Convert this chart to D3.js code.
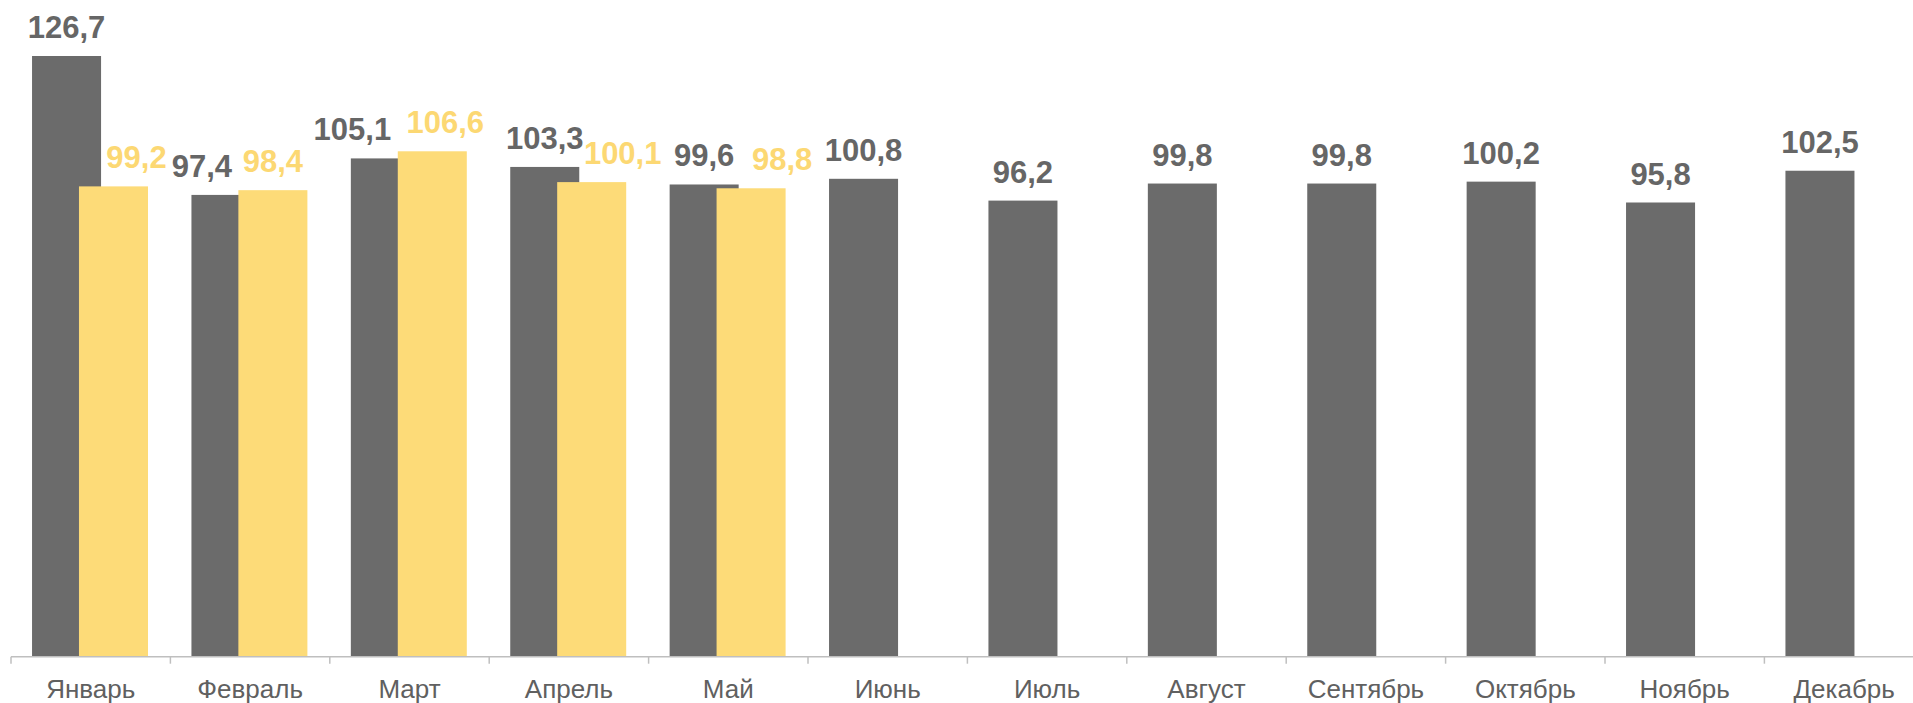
<!DOCTYPE html>
<head>
<meta charset="utf-8">
<style>
body { margin: 0; background: #fff; }
.bar.prev { fill: #6b6b6b; }
.bar.cur { fill: #fddb78; }
.val { font-family: "Liberation Sans", Arial, sans-serif; font-weight: bold; font-size: 31px; text-anchor: middle; }
.val.prev { fill: #666; }
.val.cur { fill: #fcd873; }
.axis path, .axis line { stroke: #bfbfbf; }
.axis text { font-family: "Liberation Sans", Arial, sans-serif; font-size: 26px; fill: #606060; }
</style>
<title>Индексы по месяцам</title>
</head>
<body>
<script src="https://cdn.jsdelivr.net/npm/d3@7/dist/d3.min.js"></script>
<script>

var width = 1913,
    height = 703;

var months = ["Январь", "Февраль", "Март", "Апрель", "Май", "Июнь",
              "Июль", "Август", "Сентябрь", "Октябрь", "Ноябрь", "Декабрь"];
var prevYear = [126.7, 97.4, 105.1, 103.3, 99.6, 100.8, 96.2, 99.8, 99.8, 100.2, 95.8, 102.5];
var curYear = [99.2, 98.4, 106.6, 100.1, 98.8];

// hand nudges of the labels so they don't collide (as in the original)
var prevNudge = [0, -24, -33, 0, 0, 0, 0, 0, 0, 0, 0, 0];
var curNudge = [23, 0, 13, 31, 31];

var fmt = function(v) { return d3.format(".1f")(v).replace(".", ","); };

var svg = d3.select("body").append("svg")
    .attr("width", width)
    .attr("height", height);

var x = d3.scaleBand()
    .domain(months)
    .range([11, 11 + 12 * 159.4]);

var y = d3.scaleLinear()
    .domain([0, 126.7])
    .range([656.7, 56]);

var step = x.step(),
    barW = step * 0.433,
    offPrev = step * 0.132,
    offCur = offPrev + barW * 0.68;

var prev = months.map(function(m, i) { return { m: m, v: prevYear[i], dx: prevNudge[i] }; });
var cur = curYear.map(function(v, i) { return { m: months[i], v: v, dx: curNudge[i] }; });

svg.selectAll(".bar.prev")
    .data(prev)
  .enter().append("rect")
    .attr("class", "bar prev")
    .attr("x", function(d) { return x(d.m) + offPrev; })
    .attr("y", function(d) { return y(d.v); })
    .attr("width", barW)
    .attr("height", function(d) { return y(0) - y(d.v); });

svg.selectAll(".bar.cur")
    .data(cur)
  .enter().append("rect")
    .attr("class", "bar cur")
    .attr("x", function(d) { return x(d.m) + offCur; })
    .attr("y", function(d) { return y(d.v); })
    .attr("width", barW)
    .attr("height", function(d) { return y(0) - y(d.v); });

svg.selectAll(".val.prev")
    .data(prev)
  .enter().append("text")
    .attr("class", "val prev")
    .attr("x", function(d) { return x(d.m) + offPrev + barW / 2 + d.dx; })
    .attr("y", function(d) { return y(d.v) - 18; })
    .text(function(d) { return fmt(d.v); });

svg.selectAll(".val.cur")
    .data(cur)
  .enter().append("text")
    .attr("class", "val cur")
    .attr("x", function(d) { return x(d.m) + offCur + barW / 2 + d.dx; })
    .attr("y", function(d) { return y(d.v) - 18; })
    .text(function(d) { return fmt(d.v); });

// category axis, ticks between the groups
var axis = svg.append("g")
    .attr("class", "axis")
    .attr("transform", "translate(0," + y(0) + ")");

axis.append("line")
    .attr("x1", x.range()[0])
    .attr("x2", x.range()[1])
    .attr("stroke-width", 1.5);

axis.selectAll(".tick")
    .data(months)
  .enter().append("line")
    .attr("class", "tick")
    .attr("x1", function(d) { return x(d); })
    .attr("x2", function(d) { return x(d); })
    .attr("y2", 7)
    .attr("stroke-width", 1.5);

axis.selectAll("text")
    .data(months)
  .enter().append("text")
    .attr("x", function(d) { return x(d) + step / 2; })
    .attr("y", 41)
    .attr("text-anchor", "middle")
    .text(function(d) { return d; });

</script>
</body>
